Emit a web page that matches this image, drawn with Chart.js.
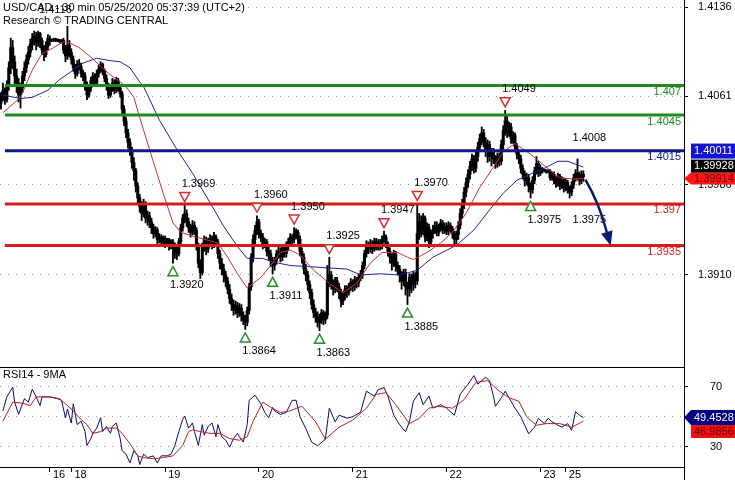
<!DOCTYPE html>
<html><head><meta charset="utf-8">
<script src="https://cdn.jsdelivr.net/npm/chart.js@4.4.1/dist/chart.umd.min.js"></script>
<style>
html,body{margin:0;padding:0;background:#fff;}
#wrap{position:relative;width:735px;height:480px;overflow:hidden;background:#fff;}
canvas{position:absolute;left:0;}
#cp{top:0;} #cr{top:367px;}
</style></head><body>
<div id="wrap"><canvas id="cp" width="735" height="367"></canvas><canvas id="cr" width="735" height="113"></canvas></div>
<script>
// ---------- DATA ----------
const opens = [
1.4055,1.4060,1.4066,1.4058, 1.4070,1.4085,1.4102,1.4090, 1.4078,1.4072,1.4062,
1.4068,1.4078,1.4085,1.4092,1.4098,1.4105, 1.4110,1.4112,1.4106,1.4114,1.4108,1.4100,1.4096,1.4103,1.4110,
1.4108,1.4108,1.4109,1.4108,1.4108,1.4107, 1.4108,1.4100,1.4095,1.4104, 1.4098,1.4092,1.4085,1.4080,
1.4088,1.4086,1.4080,1.4078,1.4070, 1.4062,1.4068,1.4074,1.4078,1.4072, 1.4080,1.4084,1.4088,
1.4082,1.4076,1.4070,1.4062, 1.4068,1.4072,1.4066,1.4074,1.4068, 1.4063,1.4050,1.4040,1.4030,
1.4022,1.4015,1.4005,1.3998, 1.3985,1.3975,1.3968,1.3962,1.3970,1.3958, 1.3960,1.3955,1.3950,1.3945,1.3948,
1.3940,1.3942,1.3938,1.3941,1.3936,1.3939,1.3935,1.3938, 1.3934,1.3930, 1.3928,1.3938,1.3950,1.3958,1.3962,
1.3955,1.3950,1.3946,1.3952, 1.3948,1.3935,1.3920, 1.3912,1.3935,1.3940,1.3932, 1.3938,1.3940,1.3936,1.3942,
1.3938,1.3928,1.3920,1.3915,1.3910, 1.3905,1.3898,1.3890,1.3885,1.3880,1.3884,1.3878, 1.3882,1.3876,1.3872,1.3870,
1.3880,1.3900,1.3925, 1.3940,1.3948,1.3955, 1.3945,1.3942,1.3936,1.3938,1.3930,1.3928, 1.3922,1.3918,1.3922,
1.3928,1.3930,1.3925,1.3933,1.3928, 1.3935,1.3938,1.3942,1.3940,1.3945, 1.3946,1.3940,1.3930,1.3925,1.3915,1.3910,
1.3902,1.3895,1.3885,1.3878,1.3875, 1.3870,1.3874,1.3878,1.3872, 1.3876, 1.3905,1.3910,1.3902,1.3898,1.3905,
1.3900,1.3895,1.3888, 1.3893,1.3898,1.3895,1.3900,1.3904,1.3900,1.3906,1.3903,1.3908, 1.3910,1.3918,1.3928,1.3935,
1.3932,1.3936,1.3932,1.3938,1.3934,1.3937, 1.3935,1.3940,1.3942, 1.3936,1.3930,1.3925,1.3920,1.3928,1.3918,
1.3915,1.3910,1.3905,1.3912,1.3900,1.3898,1.3908,1.3902,1.3910, 1.3905,1.3945,
1.3955,1.3948,1.3958,1.3942,1.3950,1.3938,
1.3945,1.3948,1.3952,1.3946,1.3950,1.3954,1.3948,1.3951,1.3947,1.3952,1.3949,1.3945,1.3940,
1.3944,1.3952,1.3962,1.3970,1.3980, 1.3988,1.3995,1.4002,1.4008,1.4000, 1.4010,1.4018,1.4025,
1.4030,1.4022,1.4015,1.4020,1.4010, 1.4014,1.4008,1.4004,1.4010, 1.4006,1.4020,1.4032, 1.4040,1.4030,1.4035,1.4025,
1.4028,1.4018,1.4012,1.4008,1.4000,1.3995,1.3990, 1.3992,1.3985,1.3982, 1.3990,1.3998,1.4004,1.3996,
1.4000,1.3998,1.3998,1.3997,1.3998,1.3992,1.3995, 1.3990,1.3988,1.3993,1.3985,1.3990,1.3984,
1.3988,1.3982,1.3980, 1.3986,1.3992,1.3996,1.3994,1.3990,1.3995];
const highs = [
1.4064,1.4072,1.4068,1.4074, 1.4090,1.4110,1.4108,1.4095, 1.4084,1.4076,1.4072,
1.4082,1.4090,1.4096,1.4103,1.4109,1.4114, 1.4116,1.4115,1.4116,1.4115,1.4110,1.4104,1.4107,1.4113,1.4112,
1.4109,1.4110,1.4110,1.4109,1.4109,1.4109, 1.4110,1.4104,1.4120,1.4108, 1.4101,1.4095,1.4088,1.4091,
1.4092,1.4089,1.4083,1.4081,1.4073, 1.4071,1.4077,1.4081,1.4080,1.4083, 1.4087,1.4090,1.4089,
1.4084,1.4079,1.4072,1.4071, 1.4076,1.4075,1.4077,1.4076,1.4070, 1.4065,1.4053,1.4043,1.4033,
1.4025,1.4018,1.4009,1.4000, 1.3988,1.3978,1.3972,1.3974,1.3972,1.3964, 1.3963,1.3958,1.3953,1.3951,1.3950,
1.3945,1.3944,1.3943,1.3943,1.3941,1.3941,1.3940,1.3940, 1.3937,1.3934, 1.3941,1.3953,1.3961,1.3969,1.3965,
1.3958,1.3953,1.3956,1.3955, 1.3950,1.3937,1.3923, 1.3937,1.3943,1.3942,1.3941, 1.3944,1.3943,1.3946,1.3944,
1.3940,1.3931,1.3924,1.3919,1.3913, 1.3908,1.3902,1.3894,1.3889,1.3888,1.3887,1.3886, 1.3885,1.3879,1.3876,1.3883,
1.3903,1.3928,1.3944, 1.3952,1.3960,1.3957, 1.3948,1.3945,1.3941,1.3940,1.3934,1.3931, 1.3925,1.3925,1.3931,
1.3934,1.3933,1.3936,1.3936,1.3938, 1.3941,1.3945,1.3944,1.3950,1.3949, 1.3948,1.3943,1.3933,1.3928,1.3919,1.3913,
1.3905,1.3898,1.3889,1.3882,1.3879, 1.3877,1.3881,1.3880,1.3879, 1.3918, 1.3925,1.3913,1.3906,1.3908,1.3908,
1.3903,1.3898,1.3896, 1.3901,1.3901,1.3903,1.3907,1.3906,1.3909,1.3908,1.3911,1.3914, 1.3921,1.3931,1.3939,1.3938,
1.3940,1.3939,1.3941,1.3941,1.3940,1.3940, 1.3943,1.3947,1.3944, 1.3938,1.3933,1.3928,1.3931,1.3930,1.3921,
1.3918,1.3913,1.3915,1.3915,1.3904,1.3911,1.3911,1.3913,1.3912, 1.3970,1.3962,
1.3960,1.3962,1.3960,1.3954,1.3953,1.3948,
1.3952,1.3955,1.3955,1.3953,1.3957,1.3956,1.3954,1.3954,1.3955,1.3954,1.3951,1.3947,1.3947,
1.3955,1.3966,1.3974,1.3984,1.3992, 1.3999,1.4006,1.4012,1.4011,1.4014, 1.4022,1.4029,1.4035,
1.4033,1.4026,1.4024,1.4023,1.4017, 1.4017,1.4011,1.4013,1.4013, 1.4024,1.4036,1.4049, 1.4044,1.4039,1.4038,1.4031,
1.4030,1.4021,1.4015,1.4011,1.4003,1.3998,1.3996, 1.3995,1.3988,1.3993, 1.4001,1.4010,1.4006,1.4003,
1.4001,1.3999,1.3999,1.3999,1.3999,1.3997,1.3997, 1.3993,1.3996,1.3995,1.3993,1.3992,1.3991,
1.3990,1.3985,1.3989, 1.3995,1.3999,1.4008,1.3997,1.3998,1.3998];
const lows = [
1.4050,1.4057,1.4054,1.4056, 1.4066,1.4080,1.4084,1.4070, 1.4064,1.4056,1.4051,
1.4064,1.4074,1.4081,1.4088,1.4094,1.4100, 1.4104,1.4100,1.4103,1.4102,1.4096,1.4091,1.4094,1.4100,1.4104,
1.4107,1.4107,1.4107,1.4107,1.4106,1.4106, 1.4097,1.4090,1.4092,1.4094, 1.4088,1.4082,1.4076,1.4078,
1.4083,1.4077,1.4074,1.4066,1.4058, 1.4060,1.4065,1.4071,1.4069,1.4070, 1.4077,1.4081,1.4079,
1.4073,1.4066,1.4059,1.4060, 1.4065,1.4063,1.4064,1.4065,1.4060, 1.4046,1.4036,1.4026,1.4017,
1.4011,1.4000,1.3990,1.3980, 1.3970,1.3963,1.3956,1.3959,1.3954,1.3952, 1.3950,1.3945,1.3941,1.3942,1.3936,
1.3937,1.3935,1.3936,1.3933,1.3934,1.3931,1.3932,1.3920, 1.3924,1.3923, 1.3926,1.3935,1.3947,1.3954,1.3951,
1.3946,1.3942,1.3944,1.3944, 1.3931,1.3916,1.3907, 1.3910,1.3930,1.3927,1.3929, 1.3934,1.3932,1.3933,1.3934,
1.3924,1.3915,1.3910,1.3904,1.3900, 1.3894,1.3886,1.3880,1.3876,1.3877,1.3874,1.3875, 1.3871,1.3868,1.3864,1.3867,
1.3877,1.3897,1.3921, 1.3936,1.3944,1.3941, 1.3938,1.3932,1.3933,1.3926,1.3923,1.3917, 1.3911,1.3914,1.3919,
1.3924,1.3921,1.3922,1.3925,1.3925, 1.3931,1.3935,1.3936,1.3937,1.3941, 1.3936,1.3926,1.3920,1.3911,1.3905,1.3897,
1.3890,1.3881,1.3874,1.3870,1.3866, 1.3863,1.3869,1.3868,1.3869, 1.3873, 1.3900,1.3898,1.3893,1.3895,1.3896,
1.3890,1.3883,1.3885, 1.3889,1.3891,1.3893,1.3897,1.3896,1.3897,1.3899,1.3900,1.3905, 1.3907,1.3915,1.3925,1.3928,
1.3929,1.3928,1.3930,1.3931,1.3931,1.3931, 1.3932,1.3937,1.3933, 1.3926,1.3920,1.3914,1.3917,1.3913,1.3910,
1.3904,1.3898,1.3901,1.3893,1.3885,1.3892,1.3895,1.3897,1.3899, 1.3902,1.3940,
1.3942,1.3944,1.3938,1.3939,1.3933,1.3935,
1.3941,1.3945,1.3943,1.3943,1.3947,1.3945,1.3945,1.3944,1.3944,1.3946,1.3941,1.3934,1.3936,
1.3940,1.3949,1.3958,1.3966,1.3976, 1.3984,1.3991,1.3998,1.3996,1.3997, 1.4006,1.4014,1.4020,
1.4018,1.4010,1.4005,1.4006,1.4002, 1.4004,1.4000,1.4001,1.4002, 1.4003,1.4016,1.4028, 1.4026,1.4027,1.4021,1.4021,
1.4014,1.4008,1.4004,1.3996,1.3991,1.3985,1.3986, 1.3980,1.3975,1.3979, 1.3987,1.3995,1.3993,1.3994,
1.3996,1.3997,1.3996,1.3996,1.3990,1.3990,1.3987, 1.3984,1.3985,1.3982,1.3983,1.3980,1.3981,
1.3979,1.3975,1.3977, 1.3983,1.3989,1.3990,1.3986,1.3987,1.3989];
const closes = [
1.4060,1.4066,1.4058,1.4070, 1.4085,1.4102,1.4090,1.4078, 1.4072,1.4062,1.4068,
1.4078,1.4085,1.4092,1.4098,1.4105,1.4110, 1.4112,1.4106,1.4114,1.4108,1.4100,1.4096,1.4103,1.4110,1.4108,
1.4108,1.4109,1.4108,1.4108,1.4107,1.4108, 1.4100,1.4095,1.4104,1.4098, 1.4092,1.4085,1.4080,1.4088,
1.4086,1.4080,1.4078,1.4070,1.4062, 1.4068,1.4074,1.4078,1.4072,1.4080, 1.4084,1.4088,1.4082,
1.4076,1.4070,1.4062,1.4068, 1.4072,1.4066,1.4074,1.4068,1.4063, 1.4050,1.4040,1.4030,1.4022,
1.4015,1.4005,1.3998,1.3985, 1.3975,1.3968,1.3962,1.3970,1.3958,1.3960, 1.3955,1.3950,1.3945,1.3948,1.3940,
1.3942,1.3938,1.3941,1.3936,1.3939,1.3935,1.3938,1.3934, 1.3930,1.3928, 1.3938,1.3950,1.3958,1.3962,1.3955,
1.3950,1.3946,1.3952,1.3948, 1.3935,1.3920,1.3912, 1.3935,1.3940,1.3932,1.3938, 1.3940,1.3936,1.3942,1.3938,
1.3928,1.3920,1.3915,1.3910,1.3905, 1.3898,1.3890,1.3885,1.3880,1.3884,1.3878,1.3882, 1.3876,1.3872,1.3870,1.3880,
1.3900,1.3925,1.3940, 1.3948,1.3955,1.3945, 1.3942,1.3936,1.3938,1.3930,1.3928,1.3922, 1.3918,1.3922,1.3928,
1.3930,1.3925,1.3933,1.3928,1.3935, 1.3938,1.3942,1.3940,1.3945,1.3946, 1.3940,1.3930,1.3925,1.3915,1.3910,1.3902,
1.3895,1.3885,1.3878,1.3875,1.3870, 1.3874,1.3878,1.3872,1.3876, 1.3905, 1.3910,1.3902,1.3898,1.3905,1.3900,
1.3895,1.3888,1.3893, 1.3898,1.3895,1.3900,1.3904,1.3900,1.3906,1.3903,1.3908,1.3910, 1.3918,1.3928,1.3935,1.3932,
1.3936,1.3932,1.3938,1.3934,1.3937,1.3935, 1.3940,1.3942,1.3936, 1.3930,1.3925,1.3920,1.3928,1.3918,1.3915,
1.3910,1.3905,1.3912,1.3900,1.3898,1.3908,1.3902,1.3910,1.3905, 1.3945,1.3955,
1.3948,1.3958,1.3942,1.3950,1.3938,1.3945,
1.3948,1.3952,1.3946,1.3950,1.3954,1.3948,1.3951,1.3947,1.3952,1.3949,1.3945,1.3940,1.3944,
1.3952,1.3962,1.3970,1.3980,1.3988, 1.3995,1.4002,1.4008,1.4000,1.4010, 1.4018,1.4025,1.4030,
1.4022,1.4015,1.4020,1.4010,1.4014, 1.4008,1.4004,1.4010,1.4006, 1.4020,1.4032,1.4040, 1.4030,1.4035,1.4025,1.4028,
1.4018,1.4012,1.4008,1.4000,1.3995,1.3990,1.3992, 1.3985,1.3982,1.3990, 1.3998,1.4004,1.3996,1.4000,
1.3998,1.3998,1.3997,1.3998,1.3992,1.3995,1.3990, 1.3988,1.3993,1.3985,1.3990,1.3984,1.3988,
1.3982,1.3980,1.3986, 1.3992,1.3996,1.3994,1.3990,1.3995,1.3993];

// moving averages on price: [bar index, value]
const maFast = [[1,1.4047],[10,1.4060],[16,1.4083],[21,1.4097],[27,1.4102],[32,1.4107],[35,1.4106],[40,1.4102],[46,1.4094],[51,1.4086],[56,1.4079],[61,1.4073],[64,1.4069],[68,1.4060],[71,1.4043],[76,1.4016],[83,1.3979],[88,1.3954],[92,1.3946],[100,1.3942],[111,1.3937],[116,1.3925],[121,1.3911],[126,1.3899],[133,1.3908],[138,1.3918],[143,1.3929],[148,1.3931],[153,1.3927],[160,1.3914],[168,1.3903],[175,1.3895],[182,1.3903],[189,1.3920],[195,1.3929],[203,1.3929],[208,1.3925],[211,1.3923],[218,1.3929],[225,1.3937],[231,1.3946],[238,1.3962],[245,1.3984],[252,1.4001],[257,1.4014],[263,1.4021],[271,1.4012],[279,1.4001],[286,1.3992],[293,1.3991],[298,1.39914]];
const maSlow = [[1,1.4062],[10,1.4059],[16,1.4060],[24,1.4066],[30,1.4075],[37,1.4083],[42,1.4089],[49,1.4093],[56,1.4091],[61,1.4090],[66,1.4085],[71,1.4073],[73,1.4069],[81,1.4041],[90,1.4016],[98,1.3996],[107,1.3971],[114,1.3951],[121,1.3934],[126,1.3924],[134,1.3924],[139,1.3921],[148,1.3918],[158,1.3917],[167,1.3916],[177,1.3915],[184,1.3910],[194,1.3911],[204,1.3910],[213,1.3914],[221,1.3925],[233,1.3935],[242,1.3948],[250,1.3965],[257,1.3979],[264,1.3990],[272,1.3996],[278,1.4000],[285,1.4006],[290,1.4006],[298,1.40011]];

// RSI(14) and its 9 MA: [bar index, value]
const rsi = [[1,53.9],[3,63.2],[6,69.7],[7,59.7],[9,51.6],[11,58.6],[12,62.0],[14,59.7],[16,68.3],[18,63.2],[20,57.4],[21,63.2],[25,63.2],[29,62.0],[31,60.9],[33,49.3],[34,55.1],[36,45.8],[37,58.6],[39,44.7],[41,47.0],[43,40.1],[44,30.8],[46,35.4],[47,38.9],[49,42.4],[51,49.3],[52,40.1],[54,43.5],[56,38.9],[57,43.5],[59,45.8],[61,35.4],[62,27.3],[64,25.0],[66,19.2],[68,27.3],[70,23.9],[71,18.1],[73,25.0],[75,22.7],[78,23.9],[80,19.2],[82,23.9],[85,23.9],[87,25.0],[89,30.8],[91,40.1],[93,48.2],[94,50.5],[96,42.4],[98,45.8],[99,40.1],[101,30.8],[103,44.7],[104,37.7],[106,43.5],[108,45.8],[110,36.6],[111,44.7],[113,36.6],[115,34.3],[117,29.7],[119,35.4],[121,38.9],[122,36.6],[124,33.1],[126,44.7],[127,60.9],[130,64.3],[133,58.6],[135,52.8],[137,49.3],[139,56.2],[140,53.9],[143,51.6],[146,52.8],[149,60.9],[151,61.0],[153,50.0],[156,42.0],[159,33.0],[162,30.6],[166,35.0],[168,55.7],[171,46.6],[173,51.0],[177,49.0],[180,50.0],[184,53.0],[187,67.0],[191,63.7],[193,68.0],[196,69.4],[198,63.7],[201,51.0],[203,46.6],[205,43.0],[207,40.0],[209,46.6],[211,60.3],[214,66.0],[216,58.0],[219,63.7],[221,55.7],[225,58.0],[228,55.7],[232,51.0],[235,65.0],[239,71.7],[242,77.4],[244,71.7],[248,76.3],[250,74.0],[252,63.7],[253,56.9],[256,62.6],[258,67.0],[261,60.3],[263,55.7],[266,50.0],[268,44.3],[270,38.6],[273,43.0],[275,48.9],[278,45.4],[280,48.9],[282,46.6],[285,44.3],[287,43.0],[290,45.4],[292,40.9],[294,53.4],[296,51.0],[298,49.4528]];
const rsiMa = [[1,47],[6,59.7],[11,59],[15,57.4],[18,63.2],[25,63.2],[30,62],[34,57.4],[37,53.9],[40,49.3],[44,44.7],[47,38.9],[51,40.1],[54,42.4],[59,42.4],[62,38.9],[66,32],[70,23.9],[73,22.7],[78,22],[83,22.7],[88,23.9],[93,30.8],[96,40.1],[98,41.2],[102,40.1],[107,38.9],[112,38.9],[117,35.4],[122,34.3],[126,36.6],[129,47],[134,59.7],[138,56.2],[143,52.8],[148,53.9],[152,56],[154,57],[161,46.6],[166,35],[173,43],[180,47.7],[187,55.7],[192,64.9],[197,66],[202,58],[209,45.4],[214,48.9],[219,55.7],[224,56.9],[231,55.7],[237,61.4],[243,72.9],[249,74],[255,67],[260,62.6],[265,60.3],[269,50],[274,44.3],[279,45.4],[286,45.4],[292,43],[298,46.9856]];

const priceTicks = [1.4136, 1.4061, 1.3986, 1.3910];
const rsiTicks = [70, 50, 30];
const dayTicks = [[25,'16'],[36,'18'],[84,'19'],[132,'20'],[180,'21'],[228,'22'],[276,'23'],[289,'25']];
const levelValues = [1.407, 1.4045, 1.4015, 1.397, 1.3935];
const levelLabels = ['1.407', '1.4045', '1.4015', '1.397', '1.3935'];
// pivots: index, price, side (H = high, L = low), drawn marker
const pivotIdx   = [21, 94, 88, 131, 125, 150, 139, 168, 163, 196, 208, 213, 258, 271, 294, 294];
const pivotPrice = [1.4116, 1.3969, 1.3920, 1.3960, 1.3864, 1.3950, 1.3911, 1.3925, 1.3863, 1.3947, 1.3885, 1.3970, 1.4049, 1.3975, 1.4008, 1.3975];
const pivotSide  = ['H','H','L','H','L','H','L','H','L','H','L','H','H','L','H','L'];
const pivotMark  = [false,true,true,true,true,true,true,true,true,true,true,true,true,true,false,false];
const lastMaSlow = 1.40011, lastClose = 1.39928, lastMaFast = 1.39914;
const lastRsi = 49.4528, lastRsiMa = 46.9856;
const arrowTargetIdx = 312, arrowTargetPrice = 1.3935;
const priceMin = 1.38323, priceMax = 1.41422;
const rsiMin = 16.47, rsiMax = 83.13;

// ---------- STYLE ----------
const FONT = '"Liberation Sans", Arial, Helvetica, sans-serif';
const N_SLOTS = 350;
const levelColors = ['#1f8a1f', '#1f8a1f', '#0c1a8c', '#d81c1c', '#d81c1c'];
Chart.defaults.font.family = FONT;
Chart.defaults.font.size = 11;
Chart.defaults.color = '#000';

const slotLabels = Array.from({length: N_SLOTS}, () => '');
dayTicks.forEach(([i, t]) => { slotLabels[i] = ' ' + t; });
function sparse(pts) { const a = new Array(N_SLOTS).fill(null); pts.forEach(([i, v]) => { a[i] = v; }); return a; }
const wickData = highs.map((h, i) => [lows[i], h]);
const bodyData = opens.map((o, i) => [o, closes[i]]);

function fixAxis(w) {
  return s => { s.width = w; s.paddingTop = 0; s.paddingBottom = 0; };
}

const pricePlugin = {
  id: 'priceDeco',
  afterDraw(chart) {
    const {ctx, chartArea: a, scales: {x, y}} = chart;
    ctx.save();
    // header
    ctx.font = '11px ' + FONT; ctx.textAlign = 'left'; ctx.textBaseline = 'middle';
    const t1 = 'USD/CAD - 30 min 05/25/2020 05:37:39 (UTC+2)';
    const w1 = ctx.measureText(t1).width;
    ctx.fillStyle = '#fff'; ctx.fillRect(0, 1, w1 + 5, 13);
    ctx.fillStyle = '#000';
    ctx.fillText(t1, 3, 8);
    ctx.fillText('Research \u00A9 TRADING CENTRAL', 3, 21);

    // level lines
    const x0 = x.getPixelForValue(2);
    levelValues.forEach((v, k) => {
      const py = y.getPixelForValue(v);
      ctx.strokeStyle = levelColors[k]; ctx.lineWidth = 3;
      ctx.beginPath(); ctx.moveTo(x0, py); ctx.lineTo(a.right, py); ctx.stroke();
      ctx.fillStyle = levelColors[k]; ctx.textAlign = 'right';
      ctx.fillText(levelLabels[k], a.right - 3, py + 6.5);
    });

    // pivots
    pivotIdx.forEach((i, k) => {
      const px = x.getPixelForValue(i), py = y.getPixelForValue(pivotPrice[k]);
      const low = pivotSide[k] === 'L';
      if (pivotMark[k]) {
        const cy = low ? py + 8 : py - 8;
        ctx.beginPath();
        if (low) { ctx.moveTo(px - 5, cy + 4.5); ctx.lineTo(px + 5, cy + 4.5); ctx.lineTo(px, cy - 4.5); }
        else { ctx.moveTo(px - 5, cy - 4.5); ctx.lineTo(px + 5, cy - 4.5); ctx.lineTo(px, cy + 4.5); }
        ctx.closePath();
        ctx.fillStyle = '#fff'; ctx.fill();
        ctx.strokeStyle = low ? '#2a8a2a' : '#d23030'; ctx.lineWidth = 1.5; ctx.stroke();
      }
      ctx.fillStyle = '#000'; ctx.textAlign = 'left';
      ctx.fillText(pivotPrice[k].toFixed(4), px - 3, low ? py + 22 : py - 21);
    });

    // forecast arrow
    const n = closes.length - 1;
    const sx = x.getPixelForValue(n) + 2, sy = y.getPixelForValue(closes[n]) + 3;
    const tx = x.getPixelForValue(arrowTargetIdx), ty = y.getPixelForValue(arrowTargetPrice);
    const dl = Math.hypot(5, 17), dx = 5 / dl, dy = 17 / dl;
    const bx = tx - 14 * dx, by = ty - 14 * dy;
    ctx.strokeStyle = '#0b1b6e'; ctx.lineWidth = 2.5;
    ctx.beginPath(); ctx.moveTo(sx, sy);
    ctx.quadraticCurveTo((sx + bx) / 2 + 3, (sy + by) / 2 - 3, bx, by); ctx.stroke();
    ctx.fillStyle = '#0b1b6e';
    ctx.beginPath(); ctx.moveTo(tx, ty); ctx.lineTo(bx - 6 * dy, by + 6 * dx); ctx.lineTo(bx + 6 * dy, by - 6 * dx); ctx.closePath(); ctx.fill();

    // axis value boxes
    const ay = y.getPixelForValue(lastMaFast);
    const bl = a.right + 7, bw = 735 - bl;
    ctx.textAlign = 'left';
    ctx.fillStyle = '#ff1616';
    ctx.beginPath(); ctx.moveTo(a.right, ay); ctx.lineTo(bl, ay - 6); ctx.lineTo(bl + bw, ay - 6); ctx.lineTo(bl + bw, ay + 6); ctx.lineTo(bl, ay + 6); ctx.closePath(); ctx.fill();
    ctx.fillStyle = '#6a0000'; ctx.fillText(lastMaFast.toFixed(5), bl + 3, ay + 0.5);
    ctx.fillStyle = '#000'; ctx.fillRect(bl, ay - 19, bw, 13);
    ctx.fillStyle = '#fff'; ctx.fillText(lastClose.toFixed(5), bl + 3, ay - 12.5);
    ctx.fillStyle = '#1414d6'; ctx.fillRect(bl, ay - 35, bw, 15);
    ctx.fillStyle = '#fff'; ctx.fillText(lastMaSlow.toFixed(5), bl + 3, ay - 27.5);
    ctx.restore();
  }
};

new Chart(document.getElementById('cp'), {
  type: 'bar',
  data: {
    labels: slotLabels,
    datasets: [
      {type: 'line', label: 'MA fast', data: sparse(maFast), borderColor: '#c83232', borderWidth: 1, pointRadius: 0, spanGaps: true, order: 1},
      {type: 'line', label: 'MA slow', data: sparse(maSlow), borderColor: '#22229a', borderWidth: 1, pointRadius: 0, spanGaps: true, order: 2},
      {label: 'body', data: bodyData, backgroundColor: '#000', barThickness: 2.4, minBarLength: 1.5, grouped: false, order: 3},
      {label: 'wick', data: wickData, backgroundColor: '#000', barThickness: 1.2, grouped: false, order: 4}
    ]
  },
  options: {
    responsive: false, animation: false, devicePixelRatio: 1,
    layout: {padding: 0},
    plugins: {legend: {display: false}, tooltip: {enabled: false}},
    scales: {
      x: {type: 'category', offset: true, display: false},
      y: {
        position: 'right', min: priceMin, max: priceMax, beginAtZero: false,
        afterBuildTicks: s => { s.ticks = priceTicks.map(v => ({value: v})); },
        afterFit: fixAxis(51),
        ticks: {callback: v => Number(v).toFixed(4), padding: 10, color: '#000', font: {size: 11, family: FONT}},
        grid: {color: '#9a9a9a', lineWidth: 1, tickLength: 4, tickColor: '#000'},
        border: {display: true, color: '#000', width: 1, dash: [1, 7]}
      }
    }
  },
  plugins: [pricePlugin]
});

const rsiPlugin = {
  id: 'rsiDeco',
  afterDraw(chart) {
    const {ctx, chartArea: a, scales: {y}} = chart;
    ctx.save();
    ctx.strokeStyle = '#000'; ctx.lineWidth = 1;
    ctx.beginPath(); ctx.moveTo(0, a.top + 0.5); ctx.lineTo(a.right + 0.5, a.top + 0.5); ctx.stroke();
    ctx.beginPath(); ctx.moveTo(a.right + 0.5, a.bottom); ctx.lineTo(a.right + 0.5, chart.height); ctx.stroke();
    ctx.font = '11px ' + FONT; ctx.textAlign = 'left'; ctx.textBaseline = 'middle';
    ctx.fillStyle = '#000'; ctx.fillText('RSI14 - 9MA', 3, a.top + 8);
    const ry = y.getPixelForValue(lastRsi);
    const bl = a.right + 7, bw = 735 - bl;
    ctx.fillStyle = '#000080';
    ctx.beginPath(); ctx.moveTo(a.right, ry); ctx.lineTo(bl, ry - 7.5); ctx.lineTo(bl + bw, ry - 7.5); ctx.lineTo(bl + bw, ry + 7.5); ctx.lineTo(bl, ry + 7.5); ctx.closePath(); ctx.fill();
    ctx.fillStyle = '#fff'; ctx.fillText(lastRsi.toFixed(4), bl + 3, ry + 0.5);
    ctx.fillStyle = '#ee1212'; ctx.fillRect(bl, ry + 7.5, bw, 13);
    ctx.fillStyle = '#6a0000'; ctx.fillText(lastRsiMa.toFixed(4), bl + 3, ry + 14.5);
    ctx.restore();
  }
};

new Chart(document.getElementById('cr'), {
  type: 'line',
  data: {
    labels: slotLabels,
    datasets: [
      {label: 'RSI MA', data: sparse(rsiMa), borderColor: '#b82020', borderWidth: 1, pointRadius: 0, spanGaps: true, order: 1},
      {label: 'RSI', data: sparse(rsi), borderColor: '#0a0a6e', borderWidth: 1, pointRadius: 0, spanGaps: true, order: 2}
    ]
  },
  options: {
    responsive: false, animation: false, devicePixelRatio: 1,
    layout: {padding: 0},
    plugins: {legend: {display: false}, tooltip: {enabled: false}},
    scales: {
      x: {
        type: 'category', offset: true,
        grid: {drawOnChartArea: false, drawTicks: true, tickLength: 5, offset: false,
               tickColor: c => (slotLabels[c.index] ? '#000' : 'rgba(0,0,0,0)')},
        border: {display: true, color: '#000'},
        ticks: {autoSkip: false, maxRotation: 0, minRotation: 0, align: 'start', padding: -4,
                color: '#000', font: {size: 11, family: FONT},
                callback: (v, i) => slotLabels[i]},
        afterFit: s => { s.height = 13; s.paddingLeft = 0; s.paddingRight = 0; }
      },
      y: {
        position: 'right', min: rsiMin, max: rsiMax, beginAtZero: false,
        afterBuildTicks: s => { s.ticks = rsiTicks.map(v => ({value: v})); },
        afterFit: fixAxis(51),
        ticks: {callback: v => String(v), padding: 22, color: '#000', font: {size: 11, family: FONT}},
        grid: {color: '#9a9a9a', lineWidth: 1, tickLength: 4, tickColor: '#000'},
        border: {display: true, color: '#000', width: 1, dash: [1, 7]}
      }
    }
  },
  plugins: [rsiPlugin]
});
</script>
</body></html>
